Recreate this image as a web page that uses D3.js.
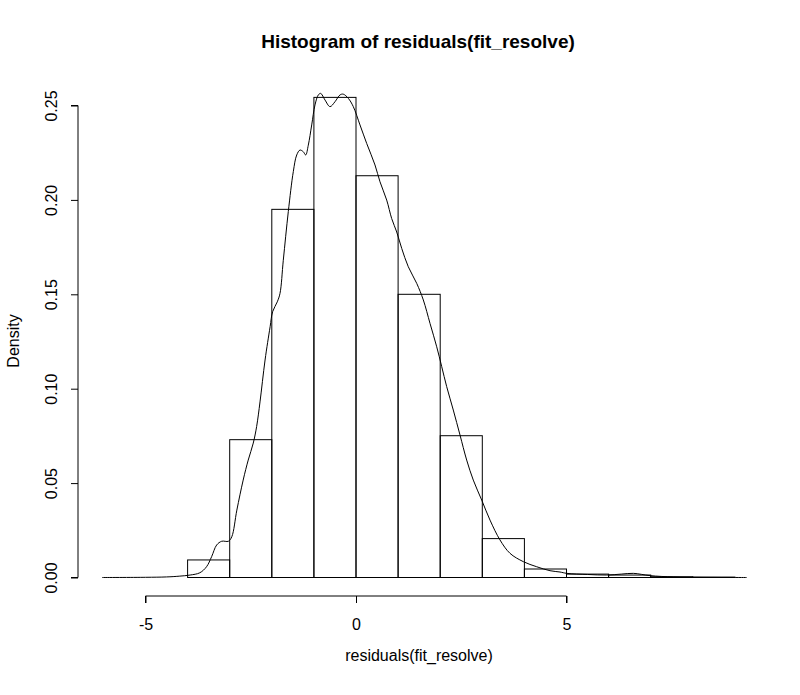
<!DOCTYPE html>
<html>
<head>
<meta charset="utf-8">
<script src="https://cdn.jsdelivr.net/npm/d3@7"></script>
<style>
  html, body { margin: 0; padding: 0; background: #fff; }
  svg { display: block; font-family: "Liberation Sans", Arial, Helvetica, sans-serif; }
</style>
</head>
<body>
<svg id="chart" width="800" height="695"></svg>
<script>
// ---- data ----
const binBreaks = [-4, -3, -2, -1, 0, 1, 2, 3, 4, 5, 6, 7, 8, 9];
const binDensity = [0.0093, 0.073, 0.195, 0.2543, 0.2128, 0.150, 0.0751, 0.0206, 0.0045, 0.0018, 0.0013, 0.0004, 0.0002];

const densityX = [-6.03, -5.0, -4.5, -4.2, -3.94, -3.71, -3.55, -3.43, -3.31, -3.19, -3.03, -2.95, -2.83, -2.68, -2.56, -2.44, -2.36, -2.28, -2.16, -2.04, -1.98, -1.87, -1.805, -1.727, -1.608, -1.489, -1.408, -1.33, -1.252, -1.195, -1.133, -1.052, -0.974, -0.895, -0.838, -0.736, -0.618, -0.499, -0.38, -0.302, -0.183, -0.064, 0.095, 0.254, 0.451, 0.57, 0.729, 0.848, 0.967, 1.086, 1.242, 1.442, 1.599, 1.758, 1.917, 2.036, 2.154, 2.311, 2.47, 2.629, 2.786, 2.986, 3.183, 3.42, 3.658, 3.974, 4.292, 4.608, 4.846, 5.005, 5.5, 5.955, 6.3, 6.587, 6.983, 7.537, 8.2, 9.28];
const densityY = [0, 0.0001, 0.0003, 0.0007, 0.0013, 0.0025, 0.0057, 0.011, 0.0172, 0.0192, 0.0192, 0.0216, 0.0357, 0.0516, 0.0622, 0.0712, 0.080, 0.093, 0.1152, 0.1328, 0.1408, 0.146, 0.1505, 0.168, 0.1938, 0.215, 0.2238, 0.2264, 0.2255, 0.2238, 0.229, 0.2397, 0.2503, 0.2556, 0.2564, 0.2529, 0.2494, 0.252, 0.2556, 0.256, 0.2538, 0.2494, 0.2397, 0.2299, 0.2185, 0.2096, 0.1999, 0.1901, 0.183, 0.1743, 0.1646, 0.1558, 0.147, 0.1346, 0.1222, 0.1117, 0.1011, 0.0887, 0.0755, 0.0622, 0.0516, 0.041, 0.0304, 0.0199, 0.0128, 0.0084, 0.0057, 0.0036, 0.0029, 0.0022, 0.0016, 0.0013, 0.0018, 0.0022, 0.001, 0.0003, 0.0001, 0];

const xTicks = [-5, 0, 5];
const yTicks = [0, 0.05, 0.10, 0.15, 0.20, 0.25];
const titleText = "Histogram of residuals(fit_resolve)";
const xLabel = "residuals(fit_resolve)";
const yLabel = "Density";

// ---- scales ----
const x = d3.scaleLinear().domain([-5, 5]).range([145.5, 566.5]);
const y = d3.scaleLinear().domain([0, 0.25]).range([577.5, 105.5]);

const svg = d3.select("#chart");
const FONT = "Liberation Sans, Arial, Helvetica, sans-serif";

// bars
const bars = binDensity.map((d, i) => ({ x0: binBreaks[i], x1: binBreaks[i + 1], d }));
svg.append("g").selectAll("rect").data(bars).join("rect")
  .attr("x", d => x(d.x0))
  .attr("y", d => y(d.d))
  .attr("width", d => x(d.x1) - x(d.x0))
  .attr("height", d => y(0) - y(d.d))
  .attr("fill", "none")
  .attr("stroke", "#000")
  .attr("stroke-width", 1);

// density line
const pts = densityX.map((v, i) => [v, densityY[i]]);
svg.append("path")
  .datum(pts)
  .attr("fill", "none")
  .attr("stroke", "#000")
  .attr("stroke-width", 1)
  .attr("d", d3.line().x(d => x(d[0])).y(d => y(d[1])).curve(d3.curveCatmullRom.alpha(0.5)));

// x axis
const xAxis = d3.axisBottom(x).tickValues(xTicks).tickSize(7).tickPadding(16).tickFormat(d => String(d));
const gx = svg.append("g").attr("transform", "translate(0,596)").call(xAxis);
gx.select(".domain").attr("d", `M${x(-5)},7V0H${x(5)}V7`);
gx.selectAll("text").attr("font-size", 16).attr("font-family", FONT).attr("fill", "#000");
gx.selectAll("line, path").attr("stroke", "#000");

// y axis
const yAxis = d3.axisLeft(y).tickValues(yTicks).tickSize(7).tickFormat(d3.format(".2f"));
const gy = svg.append("g").attr("transform", "translate(78,0)").call(yAxis);
gy.select(".domain").attr("d", `M-7,${y(0)}H0V${y(0.25)}H-7`);
gy.selectAll("line, path").attr("stroke", "#000");
gy.selectAll("text")
  .attr("font-size", 16)
  .attr("font-family", FONT)
  .attr("fill", "#000")
  .attr("x", null).attr("dy", null).attr("y", null)
  .attr("text-anchor", "middle")
  .attr("transform", "translate(-21.5,0) rotate(-90)");

// title
svg.append("text")
  .attr("x", 418).attr("y", 48)
  .attr("text-anchor", "middle")
  .attr("font-size", 19).attr("font-weight", "bold")
  .attr("font-family", FONT)
  .text(titleText);

// x label
svg.append("text")
  .attr("x", 419).attr("y", 661)
  .attr("text-anchor", "middle")
  .attr("font-size", 16)
  .attr("font-family", FONT)
  .text(xLabel);

// y label
svg.append("text")
  .attr("transform", "translate(19,341) rotate(-90)")
  .attr("text-anchor", "middle")
  .attr("font-size", 16)
  .attr("font-family", FONT)
  .text(yLabel);
</script>
</body>
</html>
